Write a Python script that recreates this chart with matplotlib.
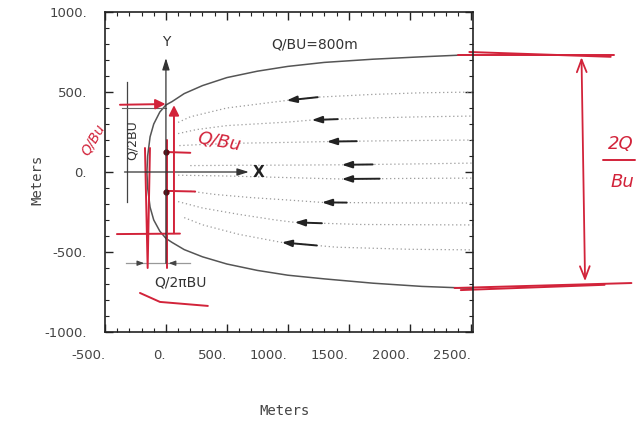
"""Capture zone of a pumping well in uniform flow (scanned figure with red notes)."""

import numpy as np
import matplotlib

matplotlib.use("Agg")
import matplotlib.pyplot as plt
from matplotlib.ticker import MultipleLocator, FuncFormatter

# capture-zone boundary (m)
bound_top_x = [-156, -150, -130, -100, -50, 0, 50, 150, 300, 500, 750, 1000, 1300, 1700, 2100, 2550]
bound_top_y = [0, 100, 220, 300, 375, 419, 440, 490, 540, 590, 630, 660, 685, 705, 720, 735]
bound_bot_x = [-156, -150, -130, -100, -50, 0, 50, 150, 300, 500, 750, 1000, 1300, 1700, 2100, 2550]
bound_bot_y = [0, -100, -220, -300, -370, -415, -440, -485, -530, -575, -615, -645, -668, -695, -715, -728]

# dotted streamlines inside the capture zone
stream_x = [
    [100, 200, 500, 1000, 1250, 1700, 2100, 2550],
    [100, 250, 500, 1000, 1200, 1700, 2100, 2550],
    [110, 300, 600, 1000, 1320, 1800, 2550],
    [200, 600, 1000, 1450, 2000, 2550],
    [100, 500, 1000, 1450, 2000, 2550],
    [200, 400, 700, 1000, 1280, 1800, 2550],
    [100, 300, 600, 900, 1060, 1600, 2550],
    [150, 300, 600, 950, 1400, 2000, 2550],
]
stream_y = [
    [310, 345, 400, 448, 468, 485, 495, 500],
    [240, 265, 290, 312, 325, 338, 345, 350],
    [165, 172, 180, 185, 190, 195, 200],
    [40, 42, 43, 45, 50, 56],
    [-20, -25, -35, -44, -40, -38],
    [-120, -140, -160, -175, -190, -193, -194],
    [-185, -225, -265, -300, -315, -328, -331],
    [-285, -330, -390, -440, -470, -483, -487],
]
# flow arrows: head and tail x on each streamline
arrow_head_x = [990, 1197, 1320, 1443, 1443, 1279, 1057, 950]
arrow_tail_x = [1246, 1410, 1566, 1697, 1754, 1484, 1280, 1238]

RED = "#d2233a"

fig = plt.figure(figsize=(6.43, 4.23), dpi=100)
ax = fig.add_axes([105 / 643, 1 - 332 / 423, 368 / 643, 320 / 423])

ax.plot(bound_top_x, bound_top_y, color="#555555", lw=1.1)
ax.plot(bound_bot_x, bound_bot_y, color="#555555", lw=1.1)

for xs, ys in zip(stream_x, stream_y):
    ax.plot(xs, ys, color="#9a9a9a", lw=0.9, ls=(0, (1, 2.2)))

for xs, ys, xh, xt in zip(stream_x, stream_y, arrow_head_x, arrow_tail_x):
    yh = np.interp(xh, xs, ys)
    yt = np.interp(xt, xs, ys)
    ax.annotate("", xy=(xh, yh), xytext=(xt, yt),
                arrowprops=dict(arrowstyle="-|>,head_length=0.6,head_width=0.2",
                                color="#222222", lw=1.4, shrinkA=0, shrinkB=0))

# coordinate axes inside the plot
ax.annotate("", xy=(0, 712), xytext=(0, -570),
            arrowprops=dict(arrowstyle="-|>,head_length=0.7,head_width=0.22",
                            color="#333333", lw=0.9, shrinkA=0, shrinkB=0))
ax.annotate("", xy=(680, 0), xytext=(-340, 0),
            arrowprops=dict(arrowstyle="-|>,head_length=0.7,head_width=0.22",
                            color="#333333", lw=0.9, shrinkA=0, shrinkB=0))
ax.text(0, 815, "Y", ha="center", va="center", fontsize=10, color="#333333")
ax.text(760, 0, "X", ha="center", va="center", fontsize=11, color="#222222",
        fontweight="bold")

# dimension Q/2BU
ax.plot([-320, -320], [560, -190], color="#444444", lw=0.9)
ax.plot([-360, 0], [400, 400], color="#666666", lw=0.8)
ax.text(-280, 200, "Q/2BU", rotation=90, ha="center", va="center",
        fontsize=9, color="#333333")
# dimension Q/2piBU
ax.plot([-330, 200], [-570, -570], color="#999999", lw=0.9)
ax.annotate("", xy=(-156, -570), xytext=(-250, -570),
            arrowprops=dict(arrowstyle="-|>,head_length=0.4,head_width=0.15",
                            color="#444444", lw=0.8))
ax.annotate("", xy=(0, -570), xytext=(100, -570),
            arrowprops=dict(arrowstyle="-|>,head_length=0.4,head_width=0.15",
                            color="#444444", lw=0.8))
ax.text(120, -690, "Q/2\u03c0BU", ha="center", va="center", fontsize=10, color="#333333")
ax.text(1220, 800, "Q/BU=800m", ha="center", va="center", fontsize=10, color="#333333")

# red hand annotations
red = dict(color=RED, lw=1.4, clip_on=False, solid_capstyle="round")
ax.plot([2394, 3680], [731, 731], **red)
ax.plot([2490, 3650], [750, 720], **red)
ax.plot([2369, 3820], [-725, -694], **red)
ax.plot([2420, 3600], [-738, -705], **red)
ax.annotate("", xy=(3410, 735), xytext=(3440, -700),
            arrowprops=dict(arrowstyle="<->,head_length=0.9,head_width=0.35",
                            color=RED, lw=1.3), annotation_clip=False)
ax.text(3730, 175, "2Q", color=RED, fontsize=13, ha="center", va="center",
        style="italic", clip_on=False)
ax.plot([3590, 3850], [75, 75], **red)
ax.text(3750, -60, "Bu", color=RED, fontsize=13, ha="center", va="center",
        style="italic", clip_on=False)

ax.annotate("", xy=(20, 425), xytext=(-400, 420),
            arrowprops=dict(arrowstyle="-|>,head_length=0.6,head_width=0.3",
                            color=RED, lw=1.4), annotation_clip=False)
ax.annotate("", xy=(66, 435), xytext=(66, -400),
            arrowprops=dict(arrowstyle="-|>,head_length=0.6,head_width=0.3",
                            color=RED, lw=1.4), annotation_clip=False)
ax.plot([-402, 115], [-388, -385], **red)
ax.plot([8, 8], [200, -600], **red)
ax.plot([-172, -150, -131], [150, -600, 150], **red)
ax.plot([0, 200], [125, 120], **red)
ax.plot([0, 240], [-118, -122], **red)
ax.plot([0, 0], [125, -125], ls="none", marker="o", ms=3.5, color="#5a0a12", clip_on=False)
ax.plot([-213, -49, 344], [-756, -812, -837], **red)
ax.text(440, 190, "Q/Bu", color=RED, fontsize=13, ha="center", va="center",
        rotation=-10, style="italic")
ax.text(-600, 200, "Q/Bu", color=RED, fontsize=10, ha="center", va="center",
        rotation=60, style="italic", clip_on=False)

# frame and ticks
ax.set_xlim(-500, 2520)
ax.set_ylim(-1000, 1000)
ax.xaxis.set_major_locator(MultipleLocator(500))
ax.yaxis.set_major_locator(MultipleLocator(500))
ax.xaxis.set_minor_locator(MultipleLocator(100))
ax.yaxis.set_minor_locator(MultipleLocator(100))
fmt = FuncFormatter(lambda v, p: f"{v:.0f}.")
ax.xaxis.set_major_formatter(fmt)
ax.yaxis.set_major_formatter(fmt)
ax.tick_params(which="both", direction="in", top=True, right=True,
               colors="#222222", labelcolor="#444444", labelsize=9.5)
ax.tick_params(which="major", length=6, width=1.0)
ax.tick_params(which="minor", length=3, width=0.8)
ax.tick_params(axis="x", pad=12)
ax.tick_params(axis="y", pad=13)
for lab in ax.get_xticklabels():
    lab.set_ha("right")
for sp in ax.spines.values():
    sp.set_linewidth(1.2)
    sp.set_color("#222222")

fig.text(285 / 643, 1 - 411 / 423, "Meters", ha="center", va="center",
         fontsize=10, color="#444444", family="DejaVu Sans Mono")
fig.text(37 / 643, 1 - 180 / 423, "Meters", ha="center", va="center",
         fontsize=10, color="#444444", family="DejaVu Sans Mono", rotation=90)

fig.savefig("out.png", dpi=100)
